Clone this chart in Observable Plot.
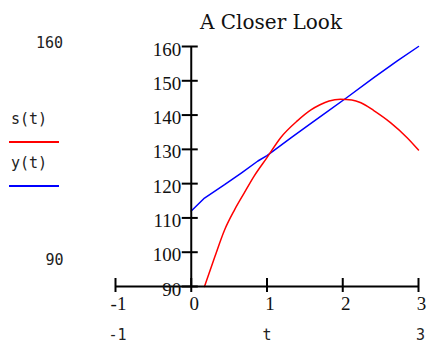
<!DOCTYPE html>
<html>
<head>
<meta charset="utf-8">
<script src="https://cdn.jsdelivr.net/npm/d3@7"></script>
<script src="https://cdn.jsdelivr.net/npm/@observablehq/plot@0.6"></script>
<style>
  html, body { margin: 0; padding: 0; background: #fff; }
  #wrap { position: relative; width: 427px; height: 344px; overflow: hidden; }
  #legend { position: absolute; left: 9px; top: 109px; font-family: "DejaVu Sans Mono", monospace; font-size: 15px; color: #222; }
  .lab { margin-left: 2px; line-height: 20px; height: 20px; }
  .sw { width: 50px; height: 0; border-top: 2px solid; margin: 12px 0 10px 0; }
</style>
</head>
<body>
<div id="wrap">
  <div id="chart"></div>
  <div id="legend"></div>
</div>
<script>
// ---- data ----
const sT = [0.175, 0.31, 0.44, 0.57, 0.70, 0.83, 1.0, 1.18, 1.40, 1.58, 1.70, 1.82, 1.97, 2.12, 2.24, 2.41, 2.63, 2.85, 3.0];
const sVals = [90, 98.6, 106.5, 112.3, 117.3, 122.2, 127.6, 133.4, 138.3, 141.5, 143.0, 144.1, 144.6, 144.4, 143.6, 141.3, 137.8, 133.4, 129.8];
const yT = [0, 0.175, 0.44, 0.66, 0.88, 1.0, 1.32, 1.58, 1.75, 2.06, 2.41, 2.72, 3.0];
const yVals = [112, 115.8, 119.7, 123.1, 126.6, 128.2, 133.4, 137.6, 140.3, 145.2, 150.9, 155.8, 160];
const xTicks = [-1, 0, 1, 2, 3];
const xTickLabels = ["-1", "0", "1", "2", "3"];
const yTicks = [90, 100, 110, 120, 130, 140, 150, 160];
const seriesNames = ["s(t)", "y(t)"];
const seriesColors = ["#ff0000", "#0000ff"];
const title = "A Closer Look";
const xLabel = "t";
const xLimits = ["-1", "3"];
const yLimits = ["160", "90"];

const sData = sT.map((t, i) => ({t, v: sVals[i]}));
const yData = yT.map((t, i) => ({t, v: yVals[i]}));

const serif = "'Liberation Serif', 'Times New Roman', serif";
const titleFont = "'DejaVu Serif', serif";
const mono = "'DejaVu Sans Mono', monospace";

const chart = Plot.plot({
  width: 427,
  height: 344,
  marginLeft: 115,
  marginRight: 9,
  marginTop: 46,
  marginBottom: 58,
  x: {domain: [-1, 3], axis: null},
  y: {domain: [90, 160], axis: null},
  style: {background: "#fff", overflow: "visible"},
  marks: [
    Plot.line(yData, {x: "t", y: "v", stroke: seriesColors[1], strokeWidth: 1.5}),
    Plot.line(sData, {x: "t", y: "v", stroke: seriesColors[0], strokeWidth: 1.5, curve: "monotone-x"}),
    // axes crossing at the origin of the view
    Plot.ruleX([0], {y1: 90, y2: 160, stroke: "#000", strokeWidth: 2}),
    Plot.ruleY([90], {x1: -1, x2: 3, stroke: "#000", strokeWidth: 2}),
    Plot.ruleY(yTicks, {y: d => d, x1: 0, x2: 0, insetLeft: -9, insetRight: -7, stroke: "#000", strokeWidth: 2}),
    Plot.ruleX(xTicks, {x: d => d, y1: 90, y2: 90, insetTop: -8, insetBottom: -6, stroke: "#000", strokeWidth: 2}),
    Plot.text(yTicks, {x: 0, y: d => d, text: d => String(d), textAnchor: "end", dx: -10, dy: 3, fontFamily: serif, fontSize: 19, fill: "#111"}),
    Plot.text(xTicks, {x: d => d, y: 90, text: (d, i) => xTickLabels[i], dx: 3, dy: 17, fontFamily: serif, fontSize: 19, fill: "#111"}),
    // title
    Plot.text([title], {frameAnchor: "top", text: d => d, textAnchor: "middle", lineAnchor: "middle", dx: 4, dy: -24, fontFamily: titleFont, fontSize: 20, fill: "#111"}),
    // limit labels
    Plot.text([yLimits[0]], {frameAnchor: "top-left", text: d => d, textAnchor: "middle", lineAnchor: "middle", dx: -66, dy: -3, fontFamily: mono, fontSize: 15, fill: "#222"}),
    Plot.text([yLimits[1]], {frameAnchor: "bottom-left", text: d => d, textAnchor: "middle", lineAnchor: "middle", dx: -61, dy: -26, fontFamily: mono, fontSize: 15, fill: "#222"}),
    Plot.text([xLimits[0]], {x: -1, frameAnchor: "bottom", text: d => d, textAnchor: "middle", lineAnchor: "middle", dx: 2, dy: 49, fontFamily: mono, fontSize: 15, fill: "#222"}),
    Plot.text([xLimits[1]], {x: 3, frameAnchor: "bottom", text: d => d, textAnchor: "middle", lineAnchor: "middle", dx: 2, dy: 49, fontFamily: mono, fontSize: 15, fill: "#222"}),
    Plot.text([xLabel], {frameAnchor: "bottom", text: d => d, textAnchor: "middle", lineAnchor: "middle", dx: 0, dy: 49, fontFamily: mono, fontSize: 15, fill: "#222"})
  ]
});
document.getElementById("chart").appendChild(chart);

const legend = document.getElementById("legend");
seriesNames.forEach((name, i) => {
  const lab = document.createElement("div");
  lab.className = "lab";
  lab.textContent = name;
  const sw = document.createElement("div");
  sw.className = "sw";
  sw.style.borderTopColor = seriesColors[i];
  legend.appendChild(lab);
  legend.appendChild(sw);
});
</script>
</body>
</html>
